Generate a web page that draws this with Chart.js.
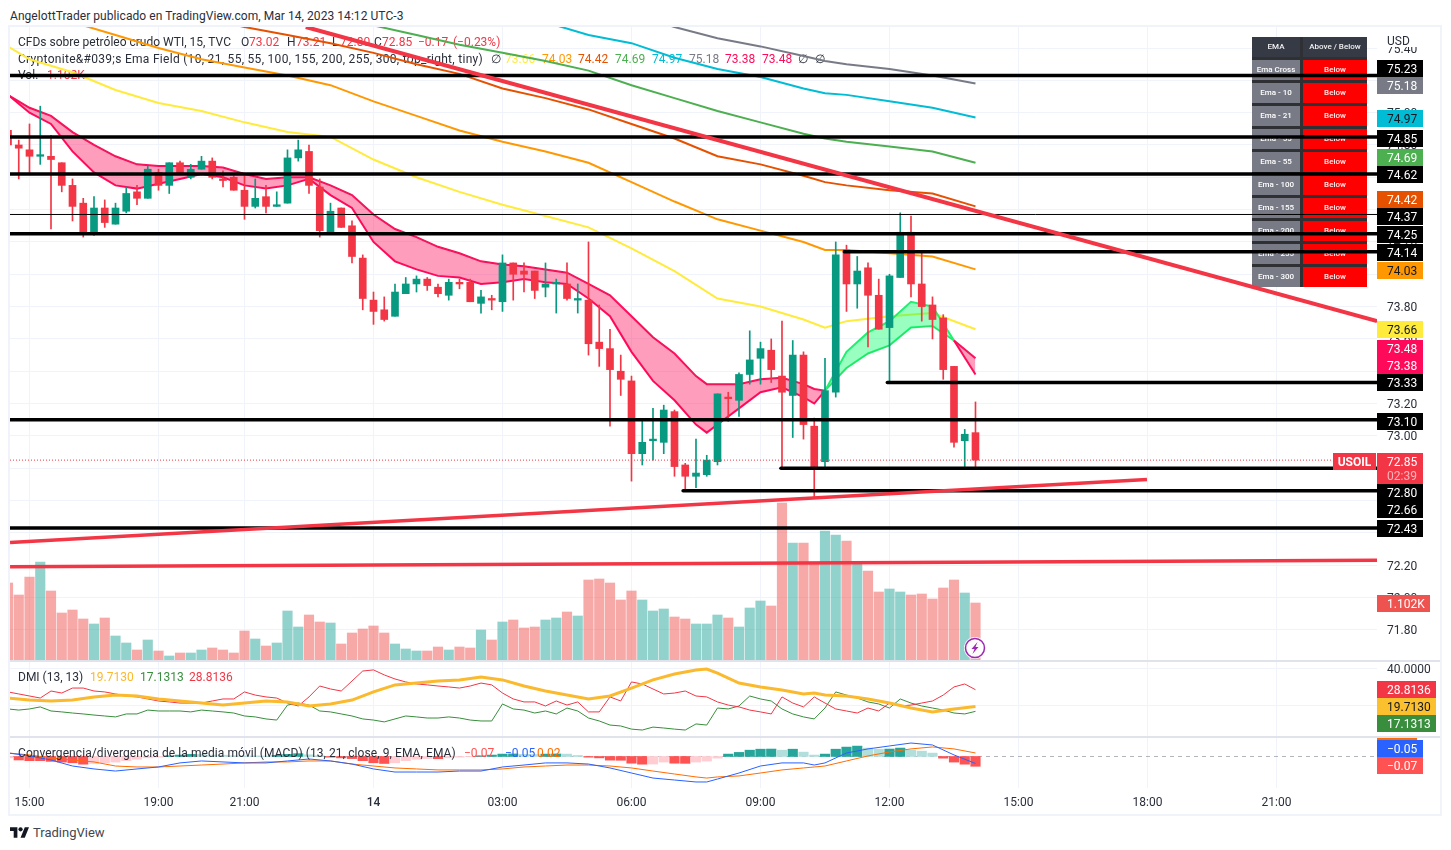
<!DOCTYPE html>
<html>
<head>
<meta charset="utf-8">
<title>USOIL 15</title>
<script src="https://cdn.jsdelivr.net/npm/chart.js@4/dist/chart.umd.min.js"></script>
<style>
  html, body { margin: 0; padding: 0; background: #fff; width: 1451px; height: 850px; overflow: hidden; }
  body { font-family: Roboto, sans-serif; color: #2a2e39; }
  #frame { position: absolute; left: 8px; top: 25px; width: 1434px; height: 791px; box-sizing: border-box; border: 2px solid #f0f3fa; }
  canvas { position: absolute; left: 10px; }
  #main { top: 27px; }
  #dmi { top: 661px; }
  #macd { top: 737px; }
  .sep { position: absolute; left: 10px; width: 1430px; height: 2px; background: #e0e3eb; z-index: 2; }
  #title { position: absolute; left: 10px; top: 8px; font-size: 12px; line-height: 16px; white-space: nowrap; letter-spacing: 0.06px; }
  #brand { position: absolute; left: 10px; top: 824px; height: 16px; display: flex; align-items: center; font-size: 13px; color: #434651; }
  #brand svg { margin-right: 4px; }
</style>
</head>
<body>
<div id="title">AngelottTrader publicado en TradingView.com, Mar 14, 2023 14:12 UTC-3</div>
<div id="frame"></div>
<canvas id="main" width="1430" height="634"></canvas>
<canvas id="dmi" width="1430" height="76"></canvas>
<canvas id="macd" width="1430" height="78"></canvas>
<div class="sep" style="top:660px"></div>
<div class="sep" style="top:736px"></div>
<div id="brand">
  <svg width="19" height="11" viewBox="0 0 36 20"><path fill="#131722" d="M14 20H7V7H0V0h14v20zM28 20h-8L28 0h8l-8 20z"/><circle fill="#131722" cx="20" cy="4" r="4"/></svg>
  TradingView
</div>

<script>
// candles, first one is cut by the left edge of the pane
const opens = [74.89,
  74.80,74.77,74.73,74.73,74.69,74.55,74.44,74.26,74.41,74.31,
  74.39,74.51,74.47,74.63,74.55,74.69,74.60,74.65,74.70,74.59,
  74.60,74.52,74.42,74.48,74.42,74.44,74.72,74.76,74.54,74.26,
  74.41,74.30,74.10,73.84,73.78,73.74,73.88,73.94,73.97,73.92,
  73.87,73.95,73.95,73.82,73.85,73.83,74.07,74.02,74.02,73.92,
  73.94,73.94,73.84,73.84,73.58,73.54,73.40,73.34,72.89,72.97,
  72.96,73.15,72.82,72.75,72.76,72.84,73.24,73.22,73.38,73.48,
  73.53,73.37,73.25,73.50,73.06,72.84,73.27,74.15,73.94,74.04,
  73.87,73.67,73.98,74.26,73.94,73.81,73.73,73.43,72.97,73.02];
const closes = [74.80,
  74.78,74.73,74.74,74.71,74.55,74.42,74.26,74.41,74.32,74.41,
  74.50,74.47,74.65,74.55,74.69,74.62,74.65,74.70,74.60,74.58,
  74.52,74.42,74.47,74.42,74.43,74.72,74.77,74.55,74.27,74.39,
  74.29,74.11,73.85,73.77,73.72,73.89,73.94,73.97,73.93,73.88,
  73.95,73.94,73.83,73.86,73.84,74.07,74.00,74.00,73.90,73.94,
  73.95,73.85,73.85,73.57,73.54,73.41,73.35,72.89,72.96,72.98,
  73.16,72.81,72.75,72.77,72.85,73.26,73.23,73.38,73.47,73.54,
  73.41,73.27,73.50,73.07,72.81,73.28,74.12,73.94,74.02,73.87,
  73.66,73.99,74.26,73.94,73.80,73.72,73.41,72.96,73.01,72.85];
const highs = [74.89,
  74.83,74.93,75.04,74.86,74.69,74.59,74.47,74.48,74.46,74.44,
  74.54,74.55,74.67,74.65,74.69,74.70,74.68,74.73,74.72,74.64,
  74.61,74.61,74.59,74.55,74.51,74.77,74.83,74.80,74.59,74.44,
  74.41,74.33,74.12,73.89,73.86,73.94,73.98,73.99,73.98,73.94,
  73.97,73.97,73.97,73.90,73.87,74.12,74.07,74.07,74.02,74.07,
  73.97,74.07,73.94,74.20,73.81,73.66,73.50,73.37,73.09,73.17,
  73.19,73.16,72.83,72.98,72.88,73.26,73.27,73.39,73.65,73.58,
  73.60,73.71,73.59,73.52,73.11,73.48,74.20,74.18,74.11,74.07,
  73.97,74.00,74.38,74.36,74.13,73.86,73.75,73.43,73.04,73.21];
const lows = [74.80,
  74.59,74.63,74.68,74.28,74.51,74.33,74.23,74.24,74.29,74.31,
  74.38,74.43,74.47,74.52,74.50,74.62,74.59,74.65,74.59,74.54,
  74.52,74.34,74.41,74.38,74.42,74.44,74.70,74.50,74.23,74.26,
  74.29,74.07,73.78,73.69,73.71,73.74,73.88,73.89,73.90,73.86,
  73.84,73.91,73.83,73.76,73.78,73.77,73.84,73.89,73.85,73.86,
  73.76,73.84,73.76,73.50,73.43,73.06,73.25,72.72,72.82,72.85,
  72.89,72.75,72.67,72.68,72.75,72.82,73.09,73.12,73.32,73.32,
  73.33,72.80,72.99,72.98,72.62,72.80,73.24,73.77,73.79,73.55,
  73.66,73.34,73.98,73.86,73.71,73.60,73.35,72.93,72.81,72.80];
const volumes = [1482,
  1254,1596,1881,1330,912,969,798,703,817,475,
  342,209,399,190,95,152,152,209,247,209,
  152,570,418,285,342,950,646,874,741,722,
  323,532,608,665,532,323,228,190,190,266,
  209,266,247,589,399,741,779,627,646,779,
  817,931,855,1539,1558,1482,1159,1330,1159,950,
  988,836,798,703,703,874,817,646,1007,1140,
  1045,3002,2242,2242,1862,2470,2394,2280,1843,1710,
  1311,1368,1311,1254,1273,1178,1387,1539,1292,1102];

// long EMAs, read every 4 bars
const emaIdx = [-1,1,5,9,13,17,21,25,29,33,37,41,45,49,53,57,61,65,69,73,75,77,81,85,89];
const ema55 = [75.41,75.33,75.25,75.14,75.06,75.01,74.94,74.88,74.85,74.71,74.60,74.51,74.43,74.36,74.29,74.16,74.02,73.85,73.80,73.72,73.67,73.71,73.74,73.76,73.66];
const ema100 = [75.76,75.67,75.56,75.48,75.40,75.33,75.28,75.23,75.17,75.07,74.98,74.89,74.82,74.76,74.69,74.57,74.45,74.34,74.27,74.20,74.15,74.15,74.13,74.11,74.03];
const ema155 = [null,null,null,75.72,75.66,75.59,75.53,75.48,75.43,75.37,75.30,75.24,75.15,75.09,75.02,74.93,74.84,74.73,74.68,74.61,74.57,74.55,74.52,74.50,74.42];
const ema200 = [null,null,null,null,null,null,null,75.68,75.61,75.54,75.48,75.42,75.37,75.32,75.26,75.17,75.09,75.01,74.94,74.87,74.84,74.82,74.79,74.76,74.69];
const ema255 = [null,null,null,null,null,null,null,null,null,null,null,75.68,75.62,75.56,75.48,75.43,75.34,75.27,75.22,75.15,75.12,75.11,75.07,75.03,74.97];
const ema300 = [null,null,null,null,null,null,null,null,null,null,null,null,null,null,null,75.61,75.53,75.46,75.41,75.35,75.32,75.30,75.27,75.23,75.18];

// ribbon and the other smooth lines, read every 2 bars
const fineIdx = [-1,1,3,5,7,9,11,13,15,17,19,21,23,25,27,29,31,33,35,37,39,41,43,45,47,49,51,53,55,57,59,61,63,64,65,67,69,71,73,74,75,77,79,81,83,85,87,89];
const ema10 = [75.11,75.00,74.93,74.76,74.63,74.55,74.53,74.56,74.59,74.62,74.60,74.55,74.53,74.55,74.59,74.49,74.41,74.20,74.08,74.03,73.99,73.98,73.94,73.95,73.97,73.95,73.94,73.85,73.74,73.52,73.34,73.22,73.07,73.02,73.07,73.17,73.27,73.30,73.24,73.20,73.28,73.52,73.64,73.71,73.83,73.80,73.59,73.38];
const ema21 = [75.11,75.03,74.98,74.88,74.80,74.73,74.68,74.67,74.67,74.67,74.66,74.62,74.59,74.60,74.60,74.55,74.49,74.37,74.28,74.23,74.17,74.13,74.08,74.06,74.05,74.03,74.01,73.94,73.87,73.74,73.61,73.51,73.37,73.32,73.32,73.32,73.35,73.36,73.32,73.29,73.28,73.42,73.51,73.56,73.67,73.68,73.59,73.48];

// drawn levels and trend lines
const levelPrices = [75.23,74.85,74.62,74.37,74.25,74.14,73.33,73.10,72.80,72.66,72.43];
const levelStarts = [-1,-1,-1,-1,-1,76.8,80.8,-1,70.9,61.8,-1];
const trendStartX = [26.7,-0.81,-0.81];
const trendStartY = [75.53,72.34,72.19];
const trendEndX = [126.35,104.95,126.35];
const trendEndY = [73.71,72.73,72.23];

// DMI per bar
const diMinus = [27.6,26.5,25.4,24.3,28.1,27.0,29.7,29.7,28.1,27.6,26.5,25.4,24.9,23.8,22.7,22.2,21.6,21.6,21.6,22.7,23.8,23.8,27.6,25.9,24.9,24.3,21.6,20.0,24.9,30.8,29.2,28.1,33.5,38.9,39.5,36.8,34.6,33.0,31.9,31.4,30.8,30.3,29.7,30.8,32.4,31.4,27.0,23.8,22.2,22.2,20.0,22.7,20.5,22.2,16.8,16.8,24.9,22.7,33.0,31.9,29.2,26.5,27.0,28.1,25.4,24.9,22.2,20.5,19.5,17.8,16.8,15.7,24.9,21.6,19.5,24.9,21.6,18.4,17.3,16.2,18.9,17.3,21.6,20.0,20.5,21.6,22.7,25.9,30.3,31.9,28.8];
const diPlus = [18.4,17.8,18.4,19.5,17.3,16.8,16.2,15.7,15.1,14.6,14.1,15.7,15.7,17.8,17.3,17.3,17.3,16.8,17.8,17.3,16.8,16.2,14.6,14.1,13.0,12.4,20.5,21.6,20.5,17.3,16.8,15.7,14.6,13.0,12.4,11.4,13.0,14.6,14.1,13.5,13.5,14.1,13.5,12.4,11.9,11.9,21.1,18.4,17.8,16.2,17.3,15.7,18.9,17.3,13.5,11.9,9.7,9.2,7.5,7.0,8.6,8.1,7.5,7.0,10.3,9.7,18.9,18.4,20.0,25.4,23.8,22.7,18.4,15.7,14.1,13.0,18.9,27.6,25.9,24.3,22.2,21.1,18.9,23.8,21.6,20.0,18.9,17.8,16.2,15.7,17.1];
const adx = [24.3,23.2,22.7,23.2,24.9,25.9,25.4,23.8,22.7,21.6,20.5,21.6,22.7,22.2,20.0,21.1,23.2,27.6,31.4,32.4,33.5,34.1,35.7,34.1,30.8,28.1,25.9,23.8,25.4,29.7,34.1,37.3,39.5,40.0,37.8,32.4,30.3,28.6,26.5,27.0,25.9,25.4,23.8,21.6,18.9,16.8,18.4,19.7];

// MACD
const macdHist = [-0.01,
  -.025,-.03,-.03,-.035,-.04,-.045,-.055,-.05,-.045,-.04,
  -.03,-.02,-.01,-.005,.005,.01,.015,.014,.01,.009,
  .005,.005,.004,.003,.008,.015,.02,.012,.005,-.005,
  -.01,-.015,-.03,-.045,-.05,-.045,-.03,-.02,-.015,-.016,
  -.01,-.005,-.002,.005,.01,.017,.018,.015,.014,.017,
  .018,.017,.007,-.005,-.01,-.026,-.027,-.048,-.055,-.054,
  -.04,-.048,-.049,-.04,-.033,-.012,.017,.029,.045,.052,
  .053,.045,.052,.031,.01,.017,.052,.067,.074,.06,
  .052,.053,.06,.045,.038,.024,-.012,-.04,-.055,-.07];
const macdLine = [.025,.004,-.025,-.068,-.089,-.104,-.089,-.075,-.046,-.032,-.039,-.046,-.046,-.032,-.018,-.032,-.054,-.089,-.111,-.111,-.111,-.104,-.104,-.075,-.061,-.046,-.046,-.054,-.082,-.118,-.154,-.168,-.182,-.182,-.161,-.118,-.068,-.046,-.046,-.061,-.046,.025,.054,.075,.096,.082,.011,-.05];
const macdSignal = [.025,.011,-.011,-.025,-.039,-.068,-.075,-.075,-.068,-.061,-.054,-.046,-.039,-.039,-.032,-.032,-.054,-.068,-.082,-.089,-.096,-.096,-.096,-.089,-.075,-.068,-.061,-.061,-.068,-.082,-.104,-.125,-.146,-.154,-.146,-.139,-.118,-.096,-.082,-.075,-.068,-.032,.004,.032,.054,.068,.054,.025];

// axes
const xTickIdx = [1,13,21,33,45,57,69,81,93,105,117];
const xTickLabels = ['15:00','19:00','21:00','14','03:00','06:00','09:00','12:00','15:00','18:00','21:00'];
const priceTicks = [71.8,72,72.2,72.4,72.6,72.8,73,73.2,73.4,73.6,73.8,74,74.2,74.4,74.6,74.8,75,75.2,75.4];
const dmiTicks = [20,40];

// EMA table
const tableHead = ['EMA','Above / Below'];
const tableNames = ['Ema Cross','Ema - 10','Ema - 21','Ema - 55','Ema - 55','Ema - 100','Ema - 155','Ema - 200','Ema - 255','Ema - 300'];
const tableState = ['Below','Below','Below','Below','Below','Below','Below','Below','Below','Below'];

const FONT = 'Roboto, sans-serif';
const UP = '#089981', DOWN = '#f23645';
const X_MIN = -0.814, X_MAX = 126.35;
const barIdx = opens.map((_, k) => k - 1);
const pts = (xs, ys) => xs.map((x, k) => ({ x: x, y: ys[k] }));
const isUp = k => closes[k] >= opens[k];

function trimPadding(scale) {
  scale.paddingLeft = scale.paddingRight = scale.paddingTop = scale.paddingBottom = 0;
}

function timeScale(height, showLabels) {
  return {
    type: 'linear', min: X_MIN, max: X_MAX, offset: false,
    border: { display: false },
    grid: { color: '#f0f3fa', drawTicks: false, offset: false },
    ticks: {
      display: showLabels, padding: 8, maxRotation: 0, autoSkip: false, color: '#2a2e39',
      font: ctx => ({ family: FONT, size: 12, weight: ctx.tick && ctx.tick.value === 33 ? '500' : 'normal' }),
      callback: v => xTickLabels[xTickIdx.indexOf(v)]
    },
    afterBuildTicks: s => { s.ticks = xTickIdx.map(v => ({ value: v })); },
    afterFit: s => { s.height = height; trimPadding(s); }
  };
}

function sideScale(min, max, tickValues, fmt) {
  return {
    position: 'right', min: min, max: max,
    border: { display: false },
    grid: { color: '#f0f3fa', drawTicks: false, display: tickValues.length > 0 },
    ticks: { display: tickValues.length > 0, padding: 10, labelOffset: 1.5, color: '#2a2e39', font: { family: FONT, size: 12 }, callback: fmt },
    afterBuildTicks: s => { s.ticks = tickValues.map(v => ({ value: v })); },
    afterFit: s => { s.width = 63; trimPadding(s); }
  };
}

const baseOptions = {
  responsive: false, animation: false, devicePixelRatio: 1, events: [],
  layout: { padding: 0 },
  plugins: { legend: { display: false }, tooltip: { enabled: false }, title: { display: false } }
};

function line(data, color, width, order, extra) {
  return Object.assign({ type: 'line', data: data, borderColor: color, borderWidth: width, pointRadius: 0, tension: 0, fill: false, order: order, clip: 0, spanGaps: false }, extra || {});
}

function text(ctx, str, x, y, color, font, align, spacing) {
  ctx.save();
  ctx.font = font || ('12px ' + FONT);
  ctx.fillStyle = color;
  ctx.textBaseline = 'middle';
  ctx.textAlign = align || 'left';
  if (spacing) ctx.letterSpacing = spacing;
  ctx.fillText(str, x, y);
  ctx.restore();
}

function axisLabel(ctx, str, top, bg, fg, offset, width) {
  const x = 1377 - 10, w = width || 46;
  ctx.fillStyle = bg;
  ctx.fillRect(x, top - offset, w, 17);
  text(ctx, str, x + 10, top - offset + 10, fg);
}

// ---- main pane ----
const ribbonGreen = c => (ema10[c.p0DataIndex] > ema21[c.p0DataIndex] || ema10[c.p1DataIndex] > ema21[c.p1DataIndex]) ? '#1ff06f' : '#ff0a5a';

const mainDatasets = [
  // 0 and 1: ribbon, filled between the two EMAs
  line(pts(fineIdx, ema10), '#ff0a5a', 2, 40, {
    segment: { borderColor: ribbonGreen },
    fill: { target: 1, above: 'rgba(0,255,100,0.4)', below: 'rgba(255,10,90,0.4)' }
  }),
  line(pts(fineIdx, ema21), '#ff0a5a', 2, 41, { segment: { borderColor: ribbonGreen } }),
  line(pts(emaIdx, ema55), '#ffeb3b', 2, 42),
  line(pts(emaIdx, ema100), '#ff9800', 2, 43),
  line(pts(emaIdx, ema155), '#e65100', 2, 44),
  line(pts(emaIdx, ema200), '#4caf50', 2, 45),
  line(pts(emaIdx, ema255), '#00bcd4', 2, 46),
  line(pts(emaIdx, ema300), '#787b86', 2, 47),
  {
    type: 'bar', yAxisID: 'yVol', grouped: false, barThickness: 9.5, borderWidth: 0, order: 50, clip: 0,
    data: pts(barIdx, volumes),
    backgroundColor: volumes.map((_, k) => isUp(k) ? 'rgba(38,166,154,0.5)' : 'rgba(239,83,80,0.5)')
  },
  {
    type: 'bar', grouped: false, barThickness: 1, borderWidth: 0, order: 31, clip: 0,
    data: barIdx.map((x, k) => ({ x: x, y: [lows[k], highs[k]] })),
    backgroundColor: opens.map((_, k) => isUp(k) ? UP : DOWN)
  },
  {
    type: 'bar', grouped: false, barThickness: 7, borderWidth: 0, minBarLength: 1, order: 30, clip: 0,
    data: barIdx.map((x, k) => ({ x: x, y: [opens[k], closes[k]] })),
    backgroundColor: opens.map((_, k) => isUp(k) ? UP : DOWN)
  },
  line([{ x: X_MIN, y: closes[closes.length - 1] }, { x: X_MAX, y: closes[closes.length - 1] }], DOWN, 1, 25, { borderDash: [1, 2] })
];
levelPrices.forEach((p, k) => {
  mainDatasets.push(line([{ x: levelStarts[k], y: p }, { x: X_MAX, y: p }], '#000', p === 74.37 ? 1 : 3.5, 20, { borderCapStyle: 'round' }));
});
trendStartX.forEach((x, k) => {
  mainDatasets.push(line([{ x: x, y: trendStartY[k] }, { x: trendEndX[k], y: trendEndY[k] }], DOWN, k === 0 ? 4 : 3.5, 10));
});

const mainLegend = {
  id: 'mainLegend',
  beforeDatasetsDraw(chart) {
    const ctx = chart.ctx;
    // EMA table
    ctx.fillStyle = '#2f3033';
    ctx.fillRect(1242, 10, 115, 250);
    ctx.fillStyle = '#363a45';
    ctx.fillRect(1242, 10, 48, 20);
    ctx.fillRect(1293, 10, 64, 20);
    text(ctx, tableHead[0], 1266, 20, '#f0f0f2', '500 8px ' + FONT, 'center');
    text(ctx, tableHead[1], 1325, 20, '#f0f0f2', '500 8px ' + FONT, 'center');
    tableNames.forEach((name, k) => {
      const top = 33 + k * 23;
      ctx.fillStyle = '#787b86';
      ctx.fillRect(1242, top, 48, 20);
      ctx.fillStyle = '#ff0000';
      ctx.fillRect(1293, top, 64, 20);
      text(ctx, name, 1266, top + 10, '#fff', '500 8px ' + FONT, 'center');
      text(ctx, tableState[k], 1325, top + 10, '#ffecec', '500 8px ' + FONT, 'center');
    });
    // pane legend
    const y1 = 16, y2 = 33, y3 = 49;
    text(ctx, 'CFDs sobre petróleo crudo WTI, 15, TVC', 8, y1, '#2a2e39');
    [['O', 231, '#2a2e39'], ['73.02', 239, DOWN], ['H', 277, '#2a2e39'], ['73.21', 286, DOWN], ['L', 322, '#2a2e39'], ['72.80', 330, DOWN],
     ['C', 364, '#2a2e39'], ['72.85', 372, DOWN], ['−0.17', 408, DOWN], ['(−0.23%)', 443, DOWN]].forEach(s => text(ctx, s[0], s[1], y1, s[2]));
    text(ctx, 'Cryptonite&#039;s Ema Field (10, 21, 55, 55, 100, 155, 200, 255, 300, top_right, tiny)', 8, y2, '#2a2e39', null, null, '0.29px');
    [['∅', 481, '#2a2e39'], ['73.66', 495, '#ffeb3b'], ['74.03', 532, '#ff9800'], ['74.42', 568, '#e65100'], ['74.69', 605, '#4caf50'],
     ['74.97', 642, '#00bcd4'], ['75.18', 679, '#787b86'], ['73.38', 715, '#ff0a5a'], ['73.48', 752, '#ff0a5a'], ['∅', 788, '#2a2e39'], ['∅', 805, '#2a2e39']].forEach(s => text(ctx, s[0], s[1], y2, s[2]));
    text(ctx, 'Vol.', 8, y3, '#2a2e39');
    text(ctx, '1.102K', 37, y3, DOWN);
  },
  afterDraw(chart) {
    const ctx = chart.ctx, off = 27;
    // hide the tick behind the currency
    ctx.fillStyle = '#fff';
    ctx.fillRect(1367, 0, 63, 20);
    text(ctx, 'USD', 1377, 15, '#2a2e39');
    const labels = [
      ['75.23', 60, '#000', '#fff'], ['75.18', 77, '#787b86', '#fff'], ['74.97', 110, '#00bcd4', '#131722'], ['74.85', 130, '#000', '#fff'],
      ['74.69', 149, '#4caf50', '#fff'], ['74.62', 166, '#000', '#fff'], ['74.42', 191, '#e65100', '#fff'], ['74.37', 208, '#000', '#fff'],
      ['74.25', 226, '#000', '#fff'], ['74.14', 244, '#000', '#fff'], ['74.03', 262, '#ff9800', '#131722'], ['73.66', 321, '#ffeb3b', '#131722'],
      ['73.48', 340, '#ff0a5a', '#fff'], ['73.38', 357, '#ff0a5a', '#fff'], ['73.33', 374, '#000', '#fff'], ['73.10', 413, '#000', '#fff'],
      ['72.80', 484, '#000', '#fff'], ['72.66', 501, '#000', '#fff'], ['72.43', 520, '#000', '#fff']
    ];
    labels.forEach(l => axisLabel(ctx, l[0], l[1], l[2], l[3], off));
    // last price with the countdown
    ctx.fillStyle = DOWN;
    ctx.fillRect(1367, 453 - off, 46, 31);
    text(ctx, '72.85', 1377, 463 - off, '#fff');
    text(ctx, '02:39', 1377, 477 - off, '#fbb6bc');
    ctx.fillRect(1323, 453 - off, 43, 17);
    text(ctx, 'USOIL', 1344.5, 463 - off, '#fff', 'bold 12px ' + FONT, 'center');
    axisLabel(ctx, '1.102K', 595, '#ef5350', '#fff', off, 53);
    // lightning mark on the last bar
    const cx = chart.scales.x.getPixelForValue(89) - 0.5, cy = 621;
    ctx.beginPath();
    ctx.arc(cx, cy, 11, 0, Math.PI * 2);
    ctx.fillStyle = 'rgba(255,255,255,0.95)';
    ctx.fill();
    ctx.beginPath();
    ctx.arc(cx, cy, 9.5, 0, Math.PI * 2);
    ctx.strokeStyle = '#9c27b0';
    ctx.lineWidth = 1.5;
    ctx.stroke();
    ctx.beginPath();
    ctx.moveTo(cx + 2.5, cy - 6);
    ctx.lineTo(cx - 3.5, cy + 1);
    ctx.lineTo(cx - 0.5, cy + 1);
    ctx.lineTo(cx - 2.5, cy + 6);
    ctx.lineTo(cx + 3.5, cy - 1);
    ctx.lineTo(cx + 0.5, cy - 1);
    ctx.closePath();
    ctx.fillStyle = '#9c27b0';
    ctx.fill();
  }
};

new Chart(document.getElementById('main'), {
  data: { datasets: mainDatasets },
  options: Object.assign({}, baseOptions, {
    scales: {
      x: timeScale(0, false),
      y: sideScale(71.607, 75.53, priceTicks, v => v.toFixed(2)),
      yVol: { display: false, position: 'right', min: 0, max: 12046 }
    }
  }),
  plugins: [mainLegend]
});

// ---- DMI pane ----
new Chart(document.getElementById('dmi'), {
  data: {
    datasets: [
      line(pts(fineIdx, adx), '#fbb92d', 3, 1),
      line(pts(barIdx, diMinus), DOWN, 1, 2),
      line(pts(barIdx, diPlus), '#388e3c', 1, 3)
    ]
  },
  options: Object.assign({}, baseOptions, {
    scales: { x: timeScale(0, false), y: sideScale(3.24, 44.32, dmiTicks, v => v.toFixed(4)) }
  }),
  plugins: [{
    id: 'dmiLegend',
    beforeDatasetsDraw(chart) {
      const ctx = chart.ctx;
      text(ctx, 'DMI (13, 13)', 8, 17, '#2a2e39');
      text(ctx, '19.7130', 80, 17, '#fbb92d');
      text(ctx, '17.1313', 130, 17, '#388e3c');
      text(ctx, '28.8136', 179, 17, DOWN);
    },
    afterDraw(chart) {
      const ctx = chart.ctx, off = 661;
      axisLabel(ctx, '28.8136', 681, DOWN, '#fff', off, 59);
      axisLabel(ctx, '19.7130', 698, '#fbc02d', '#131722', off, 59);
      axisLabel(ctx, '17.1313', 715, '#388e3c', '#fff', off, 59);
    }
  }]
});

// ---- MACD pane ----
const histColor = macdHist.map((v, k) => {
  const rising = k === 0 || v > macdHist[k - 1];
  if (v >= 0) return rising ? '#26a69a' : '#b2dfdb';
  return rising ? '#ffcdd2' : '#ff5252';
});

new Chart(document.getElementById('macd'), {
  data: {
    datasets: [
      line(pts(fineIdx, macdLine), '#2962ff', 1, 1),
      line(pts(fineIdx, macdSignal), '#ff6d00', 1, 2),
      line([{ x: X_MIN, y: 0 }, { x: X_MAX, y: 0 }], '#b2b5be', 1, 4, { borderDash: [4, 4] }),
      { type: 'bar', grouped: false, barThickness: 9.5, borderWidth: 0, order: 3, clip: 0, data: pts(barIdx, macdHist), backgroundColor: histColor }
    ]
  },
  options: Object.assign({}, baseOptions, {
    scales: { x: timeScale(27, true), y: sideScale(-0.225, 0.139, [], v => v) }
  }),
  plugins: [{
    id: 'macdLegend',
    afterDatasetsDraw(chart) {
      const ctx = chart.ctx;
      text(ctx, 'Convergencia/divergencia de la media móvil (MACD) (13, 21, close, 9, EMA, EMA)', 8, 17, '#2a2e39', null, null, '0.08px');
      text(ctx, '−0.07', 454, 17, '#ff5252');
      text(ctx, '−0.05', 495, 17, '#2962ff');
      text(ctx, '0.02', 527, 17, '#ff6d00');
    },
    afterDraw(chart) {
      const ctx = chart.ctx, off = 737;
      ctx.fillStyle = '#ff6d00';
      ctx.fillRect(1367, 0, 40, 3);
      axisLabel(ctx, '−0.05', 740, '#2962ff', '#fff', off);
      axisLabel(ctx, '−0.07', 757, '#ff5252', '#fff', off);
    }
  }]
});
</script>
</body>
</html>
